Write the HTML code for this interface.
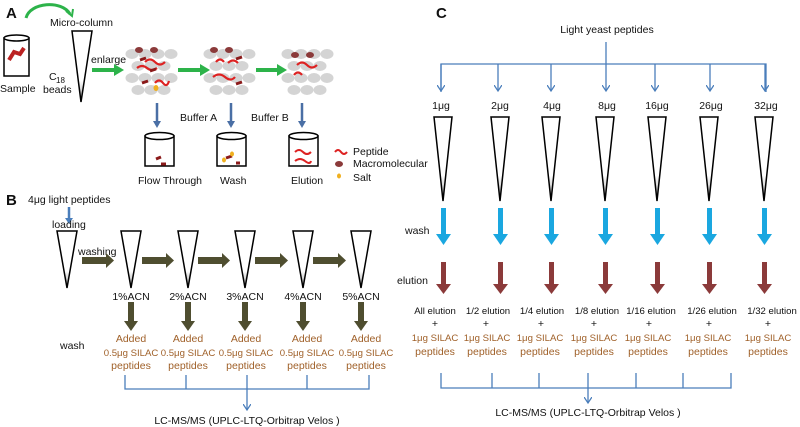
<!DOCTYPE html>
<html><head><meta charset="utf-8"><style>
html,body{margin:0;padding:0;background:#fff;width:800px;height:427px;overflow:hidden}
svg{display:block}
text{font-family:"Liberation Sans",sans-serif;font-size:10.5px;fill:#111}
.o{fill:#a0612a}
.s{font-size:9.6px}
.b{font-weight:bold;font-size:15px}
</style></head><body>
<svg width="800" height="427" viewBox="0 0 800 427" xmlns="http://www.w3.org/2000/svg">
<defs>
<marker id="ab" markerWidth="8" markerHeight="8" refX="6" refY="4" orient="auto" markerUnits="userSpaceOnUse"><path d="M0,0 L6,4 L0,8" fill="none" stroke="#4a7ebb" stroke-width="1.3"/></marker>
<linearGradient id="tg" x1="0" y1="0" x2="0" y2="1"><stop offset="0.7" stop-color="#fff"/><stop offset="1" stop-color="#999"/></linearGradient>
<g id="bead">
<ellipse cx="0" cy="0" rx="6.5" ry="5" fill="#d4d4d4"/>
</g>
</defs>
<!-- Panel A -->
<text x="6" y="18" class="b">A</text>
<path d="M26,18 C30,2 62,0 70,14" fill="none" stroke="#2db34a" stroke-width="3"/>
<path d="M66,11 L72,16 L73,9" fill="none" stroke="#2db34a" stroke-width="2"/>
<text x="50" y="26">Micro-column</text>
<rect x="4" y="38" width="25" height="38" fill="none" stroke="#000" stroke-width="1.5"/>
<ellipse cx="16.5" cy="38" rx="12.5" ry="3" fill="#fff" stroke="#000" stroke-width="1.5"/>
<path d="M9,60 L14,52 L20,54 L24,48" stroke="#b22" stroke-width="4" fill="none"/>
<text x="0" y="92">Sample</text>
<polygon points="72,31 92,31 81,102" fill="url(#tg)" stroke="#000" stroke-width="1.5"/>
<text x="49" y="80">C</text><text x="56" y="83" style="font-size:8px">18</text>
<text x="43" y="93">beads</text>
<text x="91" y="63">enlarge</text>
<path d="M92,70 L115,70" stroke="#2db34a" stroke-width="4"/><polygon points="114,64 124,70 114,76" fill="#2db34a"/>
<path d="M178,70 L201,70" stroke="#2db34a" stroke-width="4"/><polygon points="200,64 210,70 200,76" fill="#2db34a"/>
<path d="M256,70 L278,70" stroke="#2db34a" stroke-width="4"/><polygon points="277,64 287,70 277,76" fill="#2db34a"/>
<g>
<use href="#bead" x="132" y="54"/><use href="#bead" x="145" y="54"/><use href="#bead" x="158" y="54"/><use href="#bead" x="171" y="54"/>
<use href="#bead" x="138" y="66"/><use href="#bead" x="151" y="66"/><use href="#bead" x="164" y="66"/>
<use href="#bead" x="132" y="78"/><use href="#bead" x="145" y="78"/><use href="#bead" x="158" y="78"/><use href="#bead" x="171" y="78"/>
<use href="#bead" x="138" y="90"/><use href="#bead" x="151" y="90"/><use href="#bead" x="164" y="90"/>
<ellipse cx="139" cy="50" rx="4" ry="3" fill="#8b3a3a"/><ellipse cx="154" cy="50" rx="4" ry="3" fill="#8b3a3a"/>
<path d="M145,62 q5,-5 10,0 t10,0 M137,68 q5,-4 10,0 t10,0 M155,83 q4,-5 8,0 t6,-2" stroke="#d22" stroke-width="2.2" fill="none"/>
<path d="M140,60 l6,-2 M150,71 l6,-2 M142,83 l6,-2" stroke="#8b1a1a" stroke-width="3"/>
<ellipse cx="156" cy="88" rx="2.5" ry="3" fill="#f0b020"/>
</g>
<g transform="translate(78,0)">
<use href="#bead" x="132" y="54"/><use href="#bead" x="145" y="54"/><use href="#bead" x="158" y="54"/><use href="#bead" x="171" y="54"/>
<use href="#bead" x="138" y="66"/><use href="#bead" x="151" y="66"/><use href="#bead" x="164" y="66"/>
<use href="#bead" x="132" y="78"/><use href="#bead" x="145" y="78"/><use href="#bead" x="158" y="78"/><use href="#bead" x="171" y="78"/>
<use href="#bead" x="138" y="90"/><use href="#bead" x="151" y="90"/><use href="#bead" x="164" y="90"/>
<ellipse cx="136" cy="50" rx="4" ry="3" fill="#8b3a3a"/><ellipse cx="151" cy="50" rx="4" ry="3" fill="#8b3a3a"/>
<path d="M138,62 q4,-5 8,0 M150,63 q5,-5 10,0 M135,77 q6,-5 12,0 t10,0" stroke="#d22" stroke-width="2.2" fill="none"/>
<path d="M158,59 l6,-2 M158,84 l6,-2" stroke="#8b1a1a" stroke-width="3"/>
</g>
<g transform="translate(156,0)">
<use href="#bead" x="132" y="54"/><use href="#bead" x="145" y="54"/><use href="#bead" x="158" y="54"/><use href="#bead" x="171" y="54"/>
<use href="#bead" x="138" y="66"/><use href="#bead" x="151" y="66"/><use href="#bead" x="164" y="66"/>
<use href="#bead" x="132" y="78"/><use href="#bead" x="145" y="78"/><use href="#bead" x="158" y="78"/><use href="#bead" x="171" y="78"/>
<use href="#bead" x="138" y="90"/><use href="#bead" x="151" y="90"/><use href="#bead" x="164" y="90"/>
<ellipse cx="139" cy="55" rx="4" ry="3" fill="#8b3a3a"/><ellipse cx="154" cy="55" rx="4" ry="3" fill="#8b3a3a"/>
<path d="M141,65 q5,-5 10,0 t10,0 M138,75 q4,-5 8,0" stroke="#d22" stroke-width="2.2" fill="none"/>
</g>
<g stroke="#4a6fa5" stroke-width="2.5">
<line x1="157" y1="103" x2="157" y2="122"/><line x1="231" y1="103" x2="231" y2="122"/><line x1="302" y1="103" x2="302" y2="122"/>
</g>
<g fill="#4a6fa5"><polygon points="153,121 161,121 157,128"/><polygon points="227,121 235,121 231,128"/><polygon points="298,121 306,121 302,128"/></g>
<text x="180" y="121">Buffer A</text><text x="251" y="121">Buffer B</text>
<g fill="none" stroke="#000" stroke-width="1.5">
<rect x="145" y="136" width="29" height="30"/><ellipse cx="159.5" cy="136" rx="14.5" ry="3.5" fill="#fff"/>
<rect x="217" y="136" width="29" height="30"/><ellipse cx="231.5" cy="136" rx="14.5" ry="3.5" fill="#fff"/>
<rect x="289" y="136" width="29" height="30"/><ellipse cx="303.5" cy="136" rx="14.5" ry="3.5" fill="#fff"/>
</g>
<path d="M156,159 l5,-2 M161,164 l5,0 M226,158 l6,-2 M236,163 l4,0" stroke="#8b1a1a" stroke-width="3"/>
<ellipse cx="224" cy="160" rx="2" ry="2.5" fill="#f0b020"/><ellipse cx="232" cy="154" rx="2" ry="2.5" fill="#f0b020"/>
<path d="M295,152 q4,-4 8,0 t8,0 M295,161 q5,-4 10,0 t6,0" stroke="#d22" stroke-width="2" fill="none"/>
<text x="138" y="184">Flow Through</text><text x="220" y="184">Wash</text><text x="291" y="184">Elution</text>
<path d="M335,152 q3,-4 6,0 t6,0" stroke="#d22" stroke-width="2" fill="none"/>
<ellipse cx="339" cy="164" rx="4" ry="3" fill="#8b3a3a"/>
<ellipse cx="339" cy="176" rx="2" ry="2.5" fill="#f0b020"/>
<text x="353" y="155">Peptide</text><text x="353" y="167">Macromolecular</text><text x="353" y="181">Salt</text>
<!-- Panel B -->
<text x="6" y="205" class="b">B</text>
<text x="28" y="203">4μg light peptides</text>
<line x1="69" y1="207" x2="69" y2="220" stroke="#4a7ebb" stroke-width="2.5"/><polygon points="65,218 73,218 69,224" fill="#4a7ebb"/>
<text x="52" y="228">loading</text>
<text x="78" y="255">washing</text>
<g fill="url(#tg)" stroke="#000" stroke-width="1.5">
<polygon points="57,231 77,231 67,288"/>
<polygon points="121,231 141,231 131,288"/>
<polygon points="178,231 198,231 188,288"/>
<polygon points="235,231 255,231 245,288"/>
<polygon points="293,231 313,231 303,288"/>
<polygon points="351,231 371,231 361,288"/>
</g>
<g fill="#4f4e30">
<rect x="82" y="257" width="25" height="7"/><polygon points="106,253 114,260.5 106,268"/>
<rect x="142" y="257" width="25" height="7"/><polygon points="166,253 174,260.5 166,268"/>
<rect x="198" y="257" width="25" height="7"/><polygon points="222,253 230,260.5 222,268"/>
<rect x="255" y="257" width="26" height="7"/><polygon points="280,253 288,260.5 280,268"/>
<rect x="313" y="257" width="26" height="7"/><polygon points="338,253 346,260.5 338,268"/>
<rect x="128" y="302" width="6" height="20"/><polygon points="124,321 138,321 131,331"/>
<rect x="185" y="302" width="6" height="20"/><polygon points="181,321 195,321 188,331"/>
<rect x="242" y="302" width="6" height="20"/><polygon points="238,321 252,321 245,331"/>
<rect x="300" y="302" width="6" height="20"/><polygon points="296,321 310,321 303,331"/>
<rect x="358" y="302" width="6" height="20"/><polygon points="354,321 368,321 361,331"/>
</g>
<g text-anchor="middle">
<text x="131" y="300">1%ACN</text><text x="188" y="300">2%ACN</text><text x="245" y="300">3%ACN</text><text x="303" y="300">4%ACN</text><text x="361" y="300">5%ACN</text>
<text x="131" y="342" class="o">Added</text><text x="131" y="356" class="o s">0.5μg SILAC</text><text x="131" y="369" class="o">peptides</text>
<text x="188" y="342" class="o">Added</text><text x="188" y="356" class="o s">0.5μg SILAC</text><text x="188" y="369" class="o">peptides</text>
<text x="246" y="342" class="o">Added</text><text x="246" y="356" class="o s">0.5μg SILAC</text><text x="246" y="369" class="o">peptides</text>
<text x="307" y="342" class="o">Added</text><text x="307" y="356" class="o s">0.5μg SILAC</text><text x="307" y="369" class="o">peptides</text>
<text x="366" y="342" class="o">Added</text><text x="366" y="356" class="o s">0.5μg SILAC</text><text x="366" y="369" class="o">peptides</text>
<text x="247" y="424">LC-MS/MS (UPLC-LTQ-Orbitrap Velos )</text>
</g>
<text x="60" y="349">wash</text>
<path d="M125,375 V389 H369 V375 M186,375 V389 M307,375 V389" fill="none" stroke="#4a7ebb" stroke-width="1.3"/>
<line x1="247" y1="375" x2="247" y2="410" stroke="#4a7ebb" stroke-width="1.3" marker-end="url(#ab)"/>
<!-- Panel C -->
<text x="436" y="18" class="b">C</text>
<text x="607" y="33" text-anchor="middle">Light yeast peptides</text>
<path d="M606,42 V64 M441,92 V64 H766 V92" fill="none" stroke="#4a7ebb" stroke-width="1.3"/>
<g stroke="#4a7ebb" stroke-width="1.3">
<line x1="441" y1="64" x2="441" y2="91" marker-end="url(#ab)"/>
<line x1="498" y1="64" x2="498" y2="91" marker-end="url(#ab)"/>
<line x1="551" y1="64" x2="551" y2="91" marker-end="url(#ab)"/>
<line x1="606" y1="64" x2="606" y2="91" marker-end="url(#ab)"/>
<line x1="655" y1="64" x2="655" y2="91" marker-end="url(#ab)"/>
<line x1="710" y1="64" x2="710" y2="91" marker-end="url(#ab)"/>
<line x1="765" y1="64" x2="765" y2="91" marker-end="url(#ab)"/>
</g>
<g text-anchor="middle">
<text x="441" y="109">1μg</text><text x="500" y="109">2μg</text><text x="552" y="109">4μg</text><text x="607" y="109">8μg</text><text x="657" y="109">16μg</text><text x="711" y="109">26μg</text><text x="766" y="109">32μg</text>
</g>
<g fill="url(#tg)" stroke="#000" stroke-width="1.5">
<polygon points="434,117 452,117 443,201"/>
<polygon points="491,117 509,117 500,201"/>
<polygon points="542,117 560,117 551,201"/>
<polygon points="596,117 614,117 605,201"/>
<polygon points="648,117 666,117 657,201"/>
<polygon points="700,117 718,117 709,201"/>
<polygon points="755,117 773,117 764,201"/>
</g>
<g fill="#1aa7e0">
<rect x="441" y="208" width="5" height="28"/><polygon points="436,234 451,234 443.5,245"/>
<rect x="498" y="208" width="5" height="28"/><polygon points="493,234 508,234 500.5,245"/>
<rect x="549" y="208" width="5" height="28"/><polygon points="544,234 559,234 551.5,245"/>
<rect x="603" y="208" width="5" height="28"/><polygon points="598,234 613,234 605.5,245"/>
<rect x="655" y="208" width="5" height="28"/><polygon points="650,234 665,234 657.5,245"/>
<rect x="707" y="208" width="5" height="28"/><polygon points="702,234 717,234 709.5,245"/>
<rect x="762" y="208" width="5" height="28"/><polygon points="757,234 772,234 764.5,245"/>
</g>
<g fill="#8b3a3a">
<rect x="441" y="262" width="5" height="24"/><polygon points="436,284 451,284 443.5,294"/>
<rect x="498" y="262" width="5" height="24"/><polygon points="493,284 508,284 500.5,294"/>
<rect x="549" y="262" width="5" height="24"/><polygon points="544,284 559,284 551.5,294"/>
<rect x="603" y="262" width="5" height="24"/><polygon points="598,284 613,284 605.5,294"/>
<rect x="655" y="262" width="5" height="24"/><polygon points="650,284 665,284 657.5,294"/>
<rect x="707" y="262" width="5" height="24"/><polygon points="702,284 717,284 709.5,294"/>
<rect x="762" y="262" width="5" height="24"/><polygon points="757,284 772,284 764.5,294"/>
</g>
<text x="405" y="234">wash</text>
<text x="397" y="284">elution</text>
<g text-anchor="middle">
<text x="435" y="314" class="s">All elution</text><text x="488" y="314" class="s">1/2 elution</text><text x="542" y="314" class="s">1/4 elution</text><text x="597" y="314" class="s">1/8 elution</text><text x="651" y="314" class="s">1/16 elution</text><text x="712" y="314" class="s">1/26 elution</text><text x="772" y="314" class="s">1/32 elution</text>
<text x="435" y="327">+</text><text x="486" y="327">+</text><text x="541" y="327">+</text><text x="594" y="327">+</text><text x="649" y="327">+</text><text x="709" y="327">+</text><text x="768" y="327">+</text>
<text x="435" y="341" class="o s">1μg SILAC</text><text x="487" y="341" class="o s">1μg SILAC</text><text x="540" y="341" class="o s">1μg SILAC</text><text x="594" y="341" class="o s">1μg SILAC</text><text x="648" y="341" class="o s">1μg SILAC</text><text x="708" y="341" class="o s">1μg SILAC</text><text x="768" y="341" class="o s">1μg SILAC</text>
<text x="435" y="355" class="o">peptides</text><text x="487" y="355" class="o">peptides</text><text x="540" y="355" class="o">peptides</text><text x="594" y="355" class="o">peptides</text><text x="648" y="355" class="o">peptides</text><text x="708" y="355" class="o">peptides</text><text x="768" y="355" class="o">peptides</text>
<text x="588" y="416">LC-MS/MS (UPLC-LTQ-Orbitrap Velos )</text>
</g>
<path d="M441,373 V388 H731 V373 M492,373 V388 M539,373 V388 M636,373 V388 M683,373 V388" fill="none" stroke="#4a7ebb" stroke-width="1.3"/>
<line x1="588" y1="373" x2="588" y2="403" stroke="#4a7ebb" stroke-width="1.3" marker-end="url(#ab)"/>
</svg>
</body></html>
